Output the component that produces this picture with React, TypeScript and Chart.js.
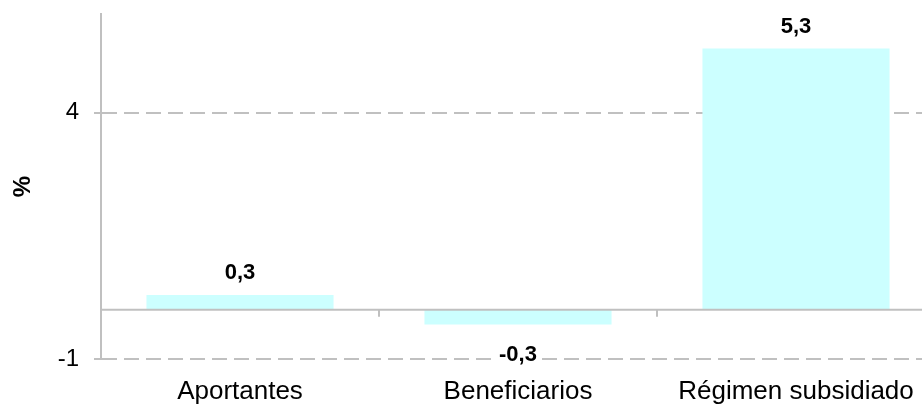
import React, { useEffect, useRef } from "react";
import { Chart, registerables } from "chart.js";

Chart.register(...registerables);

const categories = ["Aportantes", "Beneficiarios", "Régimen subsidiado"];
const values = [0.3, -0.3, 5.3];
const yTicks = [-1, 4];
const yMin = -1;
const yMax = 6;

const FONT = "'Liberation Sans', Arial, sans-serif";
const GRID = "#c0c0c0";

const fmt = (v: number) => v.toFixed(1).replace(".", ",");

const overlayPlugin = {
  id: "overlay",
  afterDatasetsDraw(chart: any) {
    const { ctx, chartArea, scales } = chart;
    const y0 = scales.y.getPixelForValue(0);
    ctx.save();
    // zero line
    ctx.strokeStyle = GRID;
    ctx.lineWidth = 2;
    ctx.beginPath();
    ctx.moveTo(chartArea.left, y0);
    ctx.lineTo(chartArea.right, y0);
    ctx.stroke();
    // tick marks at category boundaries
    const n = categories.length;
    const w = (chartArea.right - chartArea.left) / n;
    for (let i = 1; i < n; i++) {
      const x = Math.round(chartArea.left + i * w);
      ctx.beginPath();
      ctx.moveTo(x, y0);
      ctx.lineTo(x, y0 + 7);
      ctx.stroke();
    }
    // value labels
    const meta = chart.getDatasetMeta(0);
    ctx.font = `bold 22px ${FONT}`;
    ctx.textAlign = "center";
    ctx.textBaseline = "middle";
    meta.data.forEach((bar: any, i: number) => {
      const v = values[i];
      const text = fmt(v);
      let ty: number;
      if (v >= 0) {
        ty = bar.y - 22;
      } else {
        ty = bar.y + 30;
        const tw = ctx.measureText(text).width;
        ctx.fillStyle = "#ffffff";
        ctx.fillRect(bar.x - tw / 2 - 5, ty - 6, tw + 10, 12);
      }
      ctx.fillStyle = "#000000";
      ctx.fillText(text, bar.x, ty);
    });
    ctx.restore();
  },
};

export default function App() {
  const ref = useRef<HTMLCanvasElement | null>(null);

  useEffect(() => {
    if (!ref.current) return;
    const chart = new Chart(ref.current, {
      type: "bar",
      data: {
        labels: categories,
        datasets: [
          {
            data: values,
            backgroundColor: "#ccffff",
            borderWidth: 0,
            categoryPercentage: 0.673,
            barPercentage: 1,
          },
        ],
      },
      options: {
        responsive: false,
        animation: false,
        devicePixelRatio: 1,
        layout: { padding: { left: 0, right: 5, top: 14, bottom: 0 } },
        plugins: {
          legend: { display: false },
          tooltip: { enabled: false },
        },
        scales: {
          x: {
            type: "category",
            offset: true,
            grid: { display: false, drawTicks: false },
            border: { display: false },
            ticks: {
              color: "#000000",
              font: { family: FONT, size: 26 },
              padding: 17,
              maxRotation: 0,
              autoSkip: false,
            },
            afterFit: (scale: any) => {
              scale.height = 45;
              scale.paddingLeft = 0;
              scale.paddingRight = 0;
            },
          },
          y: {
            type: "linear",
            min: yMin,
            max: yMax,
            afterBuildTicks: (scale: any) => {
              scale.ticks = yTicks.map((v) => ({ value: v }));
            },
            afterFit: (scale: any) => {
              scale.width = 101;
              scale.paddingTop = 0;
              scale.paddingBottom = 0;
            },
            grid: {
              color: GRID,
              lineWidth: 2,
              drawTicks: true,
              tickLength: 7,
              tickColor: GRID,
              tickWidth: 2,
            },
            border: { display: true, color: GRID, width: 2, dash: [15, 7] },
            ticks: {
              color: "#000000",
              font: { family: FONT, size: 24 },
              padding: 15,
              callback: (v: any) => String(v).replace(".", ","),
            },
            title: {
              display: true,
              text: "%",
              color: "#000000",
              font: { family: FONT, size: 24, weight: "bold" },
              padding: { top: 9, bottom: 0 },
            },
          },
        },
      },
      plugins: [overlayPlugin],
    });
    return () => chart.destroy();
  }, []);

  return (
    <div
      style={{
        position: "fixed",
        left: 0,
        top: 0,
        width: 922,
        height: 404,
        overflow: "hidden",
        background: "#ffffff",
      }}
    >
      <canvas ref={ref} width={940} height={404} style={{ display: "block" }} />
    </div>
  );
}
